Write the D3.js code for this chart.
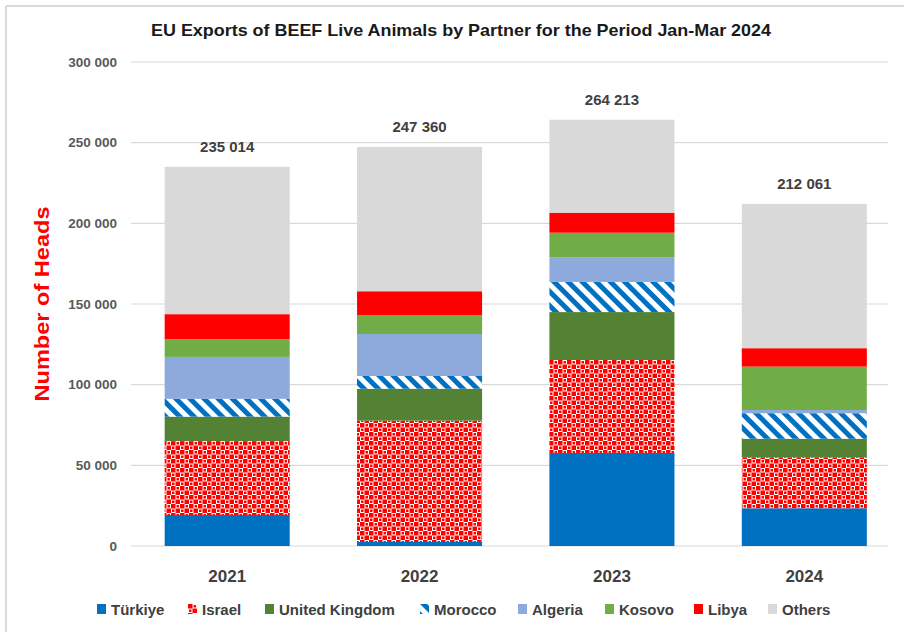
<!DOCTYPE html>
<html>
<head>
<meta charset="utf-8">
<script src="https://cdn.jsdelivr.net/npm/d3@7"></script>
<style>
  html, body { margin: 0; padding: 0; background: #fff; }
  svg { display: block; font-family: "Liberation Sans", Arial, sans-serif; }
</style>
</head>
<body>
<svg id="chart" width="904" height="632"></svg>
<script>
// ---- Data ----
const years = ["2021", "2022", "2023", "2024"];
const partners = ["Türkiye", "Israel", "United Kingdom", "Morocco", "Algeria", "Kosovo", "Libya", "Others"];
const turkiye = [19200, 2500, 57700, 23400];
const israel  = [45800, 75200, 57600, 31600];
const unitedKingdom = [15200, 19800, 29700, 11500];
const morocco = [11000, 7900, 18700, 15800];
const algeria = [26000, 26000, 15300, 2000];
const kosovo  = [11000, 11800, 15200, 26900];
const libya   = [15500, 14700, 12400, 11400];
const others  = [91314, 89460, 57613, 89461];
const totals  = [235014, 247360, 264213, 212061];
const yTicks  = [0, 50000, 100000, 150000, 200000, 250000, 300000];

const title = "EU Exports of BEEF Live Animals by Partner for the Period Jan-Mar 2024";
const yTitle = "Number of Heads";

const seriesValues = [turkiye, israel, unitedKingdom, morocco, algeria, kosovo, libya, others];
const fills = ["#0070C0", "url(#patIsrael)", "#548235", "url(#patMorocco)", "#8EA9DB", "#70AD47", "#FF0000", "#D9D9D9"];

const rows = years.map((y, i) => {
  const r = { year: y };
  partners.forEach((p, k) => r[p] = seriesValues[k][i]);
  return r;
});

const svg = d3.select("#chart");
const W = 904, H = 632;

// patterns
const defs = svg.append("defs");
const pI = defs.append("pattern").attr("id", "patIsrael")
  .attr("patternUnits", "userSpaceOnUse").attr("width", 9).attr("height", 9);
pI.append("rect").attr("width", 9).attr("height", 9).attr("fill", "#fff");
pI.append("rect").attr("x", 0).attr("y", 0).attr("width", 4.5).attr("height", 4.5).attr("fill", "#FF0000");
pI.append("rect").attr("x", 4.5).attr("y", 4.5).attr("width", 4.5).attr("height", 4.5).attr("fill", "#FF0000");
pI.append("rect").attr("x", 5.5).attr("y", 1).attr("width", 2.5).attr("height", 2.5).attr("fill", "#FF0000");
pI.append("rect").attr("x", 1).attr("y", 5.5).attr("width", 2.5).attr("height", 2.5).attr("fill", "#FF0000");

const pM = defs.append("pattern").attr("id", "patMorocco")
  .attr("patternUnits", "userSpaceOnUse").attr("width", 10).attr("height", 10)
  .attr("patternTransform", "rotate(-45)");
pM.append("rect").attr("width", 10).attr("height", 10).attr("fill", "#fff");
pM.append("rect").attr("x", 0).attr("width", 5).attr("height", 10).attr("fill", "#0070C0");

// border (left + top)
svg.append("line").attr("x1", 6).attr("x2", 6).attr("y1", 6).attr("y2", H).attr("stroke", "#D9D9D9").attr("stroke-width", 2);
svg.append("line").attr("x1", 6).attr("x2", W).attr("y1", 6).attr("y2", 6).attr("stroke", "#D9D9D9").attr("stroke-width", 2);

// scales
const x = d3.scaleBand().domain(years).range([131, 900.5]).paddingInner(0.35).paddingOuter(0.175);
const y = d3.scaleLinear().domain([0, 300000]).range([546, 62]);
const fmt = v => d3.format(",")(v).replace(/,/g, " ");

// gridlines
svg.append("g").selectAll("line").data(yTicks).join("line")
  .attr("x1", 131).attr("x2", 888)
  .attr("y1", d => y(d)).attr("y2", d => y(d))
  .attr("stroke", "#D9D9D9").attr("stroke-width", 1.2);

// y axis
const yAxis = svg.append("g").attr("transform", "translate(117,0)")
  .call(d3.axisLeft(y).tickValues(yTicks).tickSize(0).tickPadding(0).tickFormat(fmt));
yAxis.select(".domain").remove();
yAxis.selectAll("text").attr("font-size", 13.5).attr("font-weight", "bold")
  .attr("fill", "#595959").attr("font-family", "Liberation Sans, Arial, sans-serif");

// x axis
const xAxis = svg.append("g").attr("transform", "translate(0,546)")
  .call(d3.axisBottom(x).tickSize(0).tickPadding(24));
xAxis.select(".domain").remove();
xAxis.selectAll("text").attr("font-size", 17).attr("font-weight", "bold")
  .attr("fill", "#404040").attr("font-family", "Liberation Sans, Arial, sans-serif");

// stacked bars
const stack = d3.stack().keys(partners)(rows);
svg.append("g").selectAll("g").data(stack).join("g")
  .attr("fill", (d, i) => fills[i])
  .selectAll("rect").data(d => d).join("rect")
  .attr("x", d => x(d.data.year))
  .attr("width", x.bandwidth())
  .attr("y", d => y(d[1]))
  .attr("height", d => y(d[0]) - y(d[1]));

// totals
svg.append("g").selectAll("text").data(years).join("text")
  .attr("x", d => x(d) + x.bandwidth() / 2)
  .attr("y", (d, i) => y(totals[i]) - 15)
  .attr("text-anchor", "middle")
  .attr("font-size", 15).attr("font-weight", "bold").attr("fill", "#404040")
  .text((d, i) => fmt(totals[i]));

// title
svg.append("text").attr("x", 461).attr("y", 36).attr("text-anchor", "middle")
  .attr("font-size", 16.5).attr("font-weight", "bold").attr("fill", "#1a1a1a")
  .attr("textLength", 620).attr("lengthAdjust", "spacingAndGlyphs")
  .text(title);

// y title
svg.append("text").attr("transform", "translate(49,304) rotate(-90)")
  .attr("text-anchor", "middle").attr("font-size", 21).attr("font-weight", "bold")
  .attr("fill", "#FF0000").attr("textLength", 195).attr("lengthAdjust", "spacingAndGlyphs")
  .text(yTitle);

// legend
const legendX = [97, 188, 265, 420, 518, 605, 694, 768];
const lg = svg.append("g").selectAll("g").data(partners).join("g")
  .attr("transform", (d, i) => `translate(${legendX[i]},604)`);
lg.append("rect").attr("width", 9).attr("height", 10).attr("fill", (d, i) => fills[i]);
lg.append("text").attr("x", 14).attr("y", 10.5)
  .attr("font-size", 15).attr("font-weight", "bold").attr("fill", "#404040")
  .text(d => d);
</script>
</body>
</html>
